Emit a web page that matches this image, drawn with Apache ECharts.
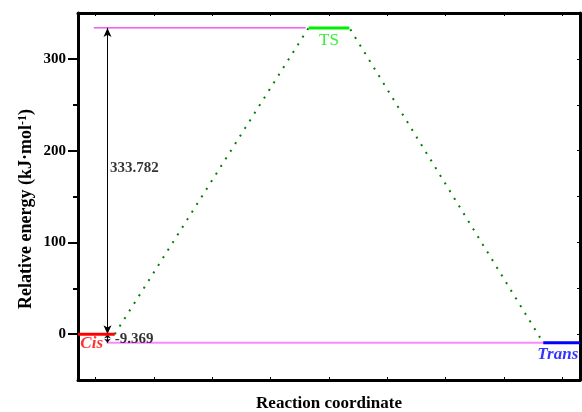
<!DOCTYPE html>
<html><head><meta charset="utf-8">
<script src="https://cdn.jsdelivr.net/npm/echarts@6/dist/echarts.min.js"></script>
<style>html,body{margin:0;padding:0;background:#fff}#c{width:582px;height:412px}</style>
</head><body><div id="c"></div>
<script>
// ---- data ----
const yTickLabels = [0, 100, 200, 300];
const yMinorTicks = [50, 150, 250];
const xTicks = [1, 2, 3, 4, 5, 6, 7, 8, 9];
const levelNames = ['Cis', 'TS', 'Trans'];
const levelEnergies = [0, 333.782, -9.369];
const barrierValue = 333.782;
const reactionValue = -9.369;
const barrierLabel = '333.782';
const reactionLabel = '-9.369';
const xAxisTitle = 'Reaction coordinate';
const yAxisTitle = 'Relative energy (kJ·mol{sup|-1})';

// ---- layout (reaction coordinate units) ----
const cisX = [0.7, 1.33], tsX = [4.65, 5.35], transX = [8.67, 9.3];
const arrowX = 1.205;
const E = levelEnergies;
const FONT = '"Liberation Serif", "Times New Roman", serif';

const chart = echarts.init(document.getElementById('c'));
const lineBase = { type: 'line', xAxisIndex: 0, yAxisIndex: 0, symbol: 'none', silent: true, animation: false };
const labelSeries = (pt, text, pos, style) => ({
  type: 'scatter', xAxisIndex: 0, yAxisIndex: 0, symbolSize: 0, silent: true, animation: false, z: 10,
  data: [pt],
  label: Object.assign({ show: true, formatter: text, position: pos, distance: 0, fontFamily: FONT }, style)
});
const axLine = { show: true, onZero: false, lineStyle: { color: '#000', width: 3 } };

chart.setOption({
  animation: false,
  grid: { left: 78, right: 2, top: 13, bottom: 32, containLabel: false, outerBoundsMode: 'none' },
  xAxis: [
    { type: 'value', position: 'bottom', min: 0.7, max: 9.3,
      axisLine: axLine,
      axisTick: { show: true, inside: true, length: 3, customValues: xTicks, lineStyle: { color: '#000', width: 1 } },
      axisLabel: { show: false }, splitLine: { show: false },
      name: xAxisTitle, nameLocation: 'middle', nameGap: 15,
      nameTextStyle: { fontFamily: FONT, fontWeight: 'bold', fontSize: 17, color: '#000', verticalAlign: 'top' } },
    { type: 'value', position: 'top', min: 0.7, max: 9.3,
      axisLine: axLine,
      axisTick: { show: true, inside: true, length: 3, customValues: xTicks, lineStyle: { color: '#000', width: 1 } },
      axisLabel: { show: false }, splitLine: { show: false } }
  ],
  yAxis: [
    { type: 'value', position: 'left', min: -50, max: 350,
      axisLine: axLine,
      axisTick: { show: true, inside: false, length: 10, customValues: yTickLabels, lineStyle: { color: '#000', width: 2 } },
      axisLabel: { show: true, customValues: yTickLabels, margin: 12, fontFamily: FONT, fontWeight: 'bold', fontSize: 15, color: '#000' },
      splitLine: { show: false } },
    { type: 'value', position: 'left', min: -50, max: 350,
      axisLine: { show: false, onZero: false },
      axisTick: { show: true, inside: false, length: 5, customValues: yMinorTicks, lineStyle: { color: '#000', width: 2 } },
      axisLabel: { show: false }, splitLine: { show: false } },
    { type: 'value', position: 'right', min: -50, max: 350,
      axisLine: axLine,
      axisTick: { show: true, inside: true, length: 3, customValues: yTickLabels.concat(yMinorTicks), lineStyle: { color: '#000', width: 1 } },
      axisLabel: { show: false }, splitLine: { show: false } }
  ],
  graphic: [{
    type: 'text', x: 26, y: 209, rotation: Math.PI / 2,
    style: {
      text: yAxisTitle, align: 'center', verticalAlign: 'middle',
      fontFamily: FONT, fontWeight: 'bold', fontSize: 18, fill: '#000',
      rich: { sup: { fontFamily: FONT, fontWeight: 'bold', fontSize: 12, verticalAlign: 'top', fill: '#000' } }
    }
  }],
  series: [
    Object.assign({}, lineBase, { z: 2,
      data: [[cisX[1], E[0]], [tsX[0], E[1]], [tsX[1], E[1]], [transX[0], E[2]]],
      lineStyle: { color: '#008000', width: 2, type: [2, 7] } }),
    Object.assign({}, lineBase, { z: 3,
      data: [[0.97, barrierValue], [4.6, barrierValue]],
      lineStyle: { color: '#ee00ee', width: 1 } }),
    Object.assign({}, lineBase, { z: 3,
      data: [[1.19, reactionValue], [transX[0], reactionValue]],
      lineStyle: { color: '#ff88ff', width: 2 } }),
    Object.assign({}, lineBase, { z: 5, data: [[cisX[0], E[0]], [cisX[1], E[0]]], lineStyle: { color: '#ff0000', width: 3 } }),
    Object.assign({}, lineBase, { z: 5, data: [[tsX[0], E[1]], [tsX[1], E[1]]], lineStyle: { color: '#00ee00', width: 3 } }),
    Object.assign({}, lineBase, { z: 5, data: [[transX[0], E[2]], [transX[1], E[2]]], lineStyle: { color: '#0000ff', width: 3 } }),
    Object.assign({}, lineBase, { z: 6, data: [],
      markLine: { silent: true, animation: false, symbol: ['arrow', 'arrow'],
        label: { show: false }, lineStyle: { color: '#000', width: 1, type: 'solid' },
        emphasis: { disabled: true },
        data: [
          [{ coord: [arrowX, E[0]], symbolSize: [6, 9] }, { coord: [arrowX, barrierValue], symbolSize: [6, 9] }],
          [{ coord: [arrowX, reactionValue], symbolSize: [5, 4] }, { coord: [arrowX, E[0]], symbolSize: [5, 4] }]
        ] } }),
    labelSeries([1.25, 181], barrierLabel, 'right', { fontWeight: 'bold', fontSize: 15, color: '#000' }),
    labelSeries([1.33, -5.5], reactionLabel, 'right', { fontWeight: 'bold', fontSize: 15, color: '#000' }),
    labelSeries([0.74, -10.5], levelNames[0], 'right', { fontWeight: 'bold', fontStyle: 'italic', fontSize: 17, color: '#ff0000' }),
    labelSeries([5.0, 320.5], levelNames[1], 'inside', { fontWeight: 'normal', fontSize: 17, color: '#00ee00' }),
    labelSeries([9.27, -22], levelNames[2], 'left', { fontWeight: 'bold', fontStyle: 'italic', fontSize: 17, color: '#0000ff' })
  ]
});
</script></body></html>
